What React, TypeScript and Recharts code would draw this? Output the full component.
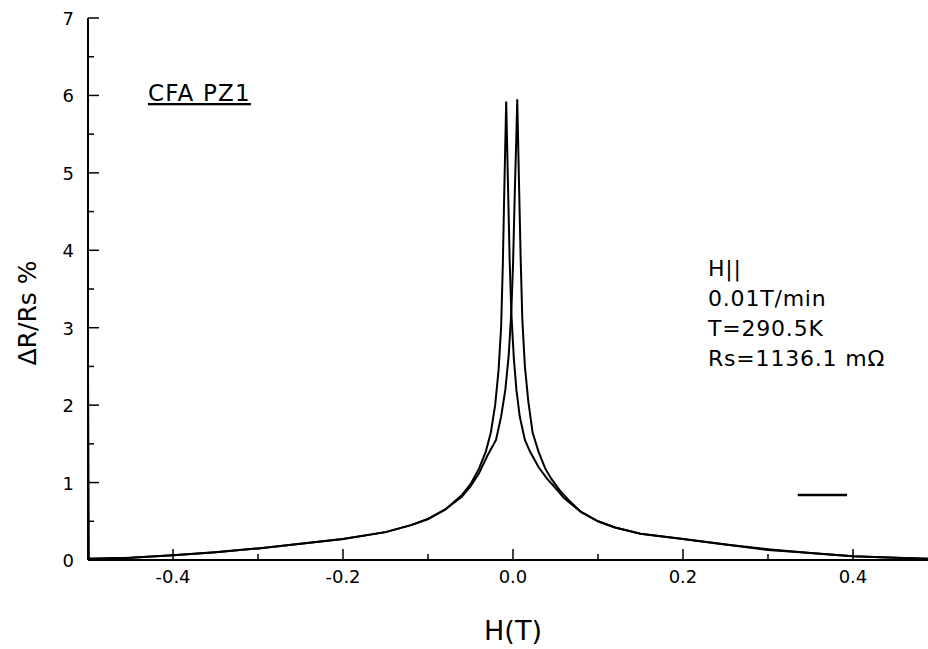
import React from 'react';
import { LineChart, Line, XAxis, YAxis } from 'recharts';

// field sweep down (+0.5 -> -0.5), peak just below zero
const hDown = [-0.5, -0.45, -0.4, -0.35, -0.3, -0.25, -0.2, -0.15, -0.12, -0.1, -0.08, -0.06, -0.05, -0.04, -0.032, -0.026, -0.021, -0.017, -0.014, -0.012, -0.01, -0.008, -0.006, -0.004, -0.002, 0.001, 0.004, 0.008, 0.014, 0.02, 0.03, 0.04, 0.05, 0.06, 0.08, 0.1, 0.12, 0.15, 0.2, 0.25, 0.3, 0.35, 0.4, 0.45, 0.5];
const rDown = [0.01, 0.03, 0.06, 0.1, 0.15, 0.21, 0.27, 0.36, 0.45, 0.53, 0.65, 0.84, 0.98, 1.18, 1.4, 1.65, 2.0, 2.45, 3.0, 3.8, 4.9, 5.92, 4.9, 3.9, 3.2, 2.6, 2.2, 1.85, 1.55, 1.4, 1.2, 1.05, 0.93, 0.8, 0.62, 0.5, 0.42, 0.34, 0.27, 0.2, 0.14, 0.09, 0.05, 0.03, 0.01];

// field sweep up (-0.5 -> +0.5), peak just above zero
const hUp = [-0.5, -0.499, -0.45, -0.4, -0.35, -0.3, -0.25, -0.2, -0.15, -0.12, -0.1, -0.08, -0.06, -0.05, -0.04, -0.03, -0.02, -0.014, -0.009, -0.005, -0.002, 0.0, 0.002, 0.004, 0.005, 0.007, 0.009, 0.011, 0.014, 0.018, 0.023, 0.03, 0.038, 0.045, 0.055, 0.065, 0.08, 0.1, 0.12, 0.15, 0.2, 0.25, 0.3, 0.35, 0.4, 0.45, 0.5];
const rUp = [2.5, 0.02, 0.03, 0.06, 0.1, 0.15, 0.21, 0.27, 0.36, 0.45, 0.53, 0.65, 0.82, 0.95, 1.12, 1.35, 1.55, 1.85, 2.2, 2.65, 3.2, 3.8, 4.7, 5.5, 5.95, 4.9, 3.9, 3.1, 2.5, 2.05, 1.65, 1.4, 1.18, 1.05, 0.9, 0.78, 0.62, 0.5, 0.42, 0.34, 0.27, 0.2, 0.13, 0.09, 0.05, 0.03, 0.01];

// leftover legend dash at right
const hDash = [0.335, 0.393];
const rDash = [0.84, 0.84];

const xTicks = [-0.5, -0.4, -0.3, -0.2, -0.1, 0, 0.1, 0.2, 0.3, 0.4, 0.5];
const yTicks = [0, 0.5, 1, 1.5, 2, 2.5, 3, 3.5, 4, 4.5, 5, 5.5, 6, 6.5, 7];

const downData = hDown.map((h, i) => ({ h, v: rDown[i] }));
const upData = hUp.map((h, i) => ({ h, v: rUp[i] }));
const dashData = hDash.map((h, i) => ({ h, v: rDash[i] }));

const FONT = '"DejaVu Sans", sans-serif';
const MAJOR = 11;
const MINOR = 6;

const isMajorX = (v: number) => Math.round(v * 10) % 2 === 0;
const isMajorY = (v: number) => Math.abs(v - Math.round(v)) < 1e-6;

const BottomTick = (props: any) => {
  const { x, y, payload } = props;
  const v = payload.value;
  const major = isMajorX(v);
  return (
    <g>
      <line x1={x} x2={x} y1={y} y2={y - (major ? MAJOR : MINOR)} stroke="#000" strokeWidth={1.5} />
      {major && (
        <text x={x} y={y + 23} textAnchor="middle" fontSize={18} fontFamily={FONT} fill="#000">
          {v.toFixed(1)}
        </text>
      )}
    </g>
  );
};

const TopTick = (props: any) => {
  const { x, y, payload } = props;
  const major = isMajorX(payload.value);
  return <line x1={x} x2={x} y1={y} y2={y + (major ? MAJOR : MINOR)} stroke="#000" strokeWidth={1.5} />;
};

const LeftTick = (props: any) => {
  const { x, y, payload } = props;
  const v = payload.value;
  const major = isMajorY(v);
  return (
    <g>
      <line x1={x} x2={x + (major ? MAJOR : MINOR)} y1={y} y2={y} stroke="#000" strokeWidth={1.5} />
      {major && (
        <text x={x - 14} y={y + 7} textAnchor="end" fontSize={18} fontFamily={FONT} fill="#000">
          {String(v)}
        </text>
      )}
    </g>
  );
};

const RightTick = (props: any) => {
  const { x, y, payload } = props;
  const major = isMajorY(payload.value);
  return <line x1={x} x2={x - (major ? MAJOR : MINOR)} y1={y} y2={y} stroke="#000" strokeWidth={1.5} />;
};

const axisLine = { stroke: '#000', strokeWidth: 2 };
const notes = ['H||', '0.01T/min', 'T=290.5K', 'Rs=1136.1 mΩ'];

export default function App() {
  return (
    <div style={{ position: 'fixed', left: 0, top: 0, width: 928, height: 649, overflow: 'hidden', background: '#fff' }}>
      <LineChart width={960} height={649} margin={{ top: 18, right: 22, bottom: 0, left: 0 }}>
        <XAxis
          dataKey="h"
          type="number"
          domain={[-0.5, 0.5]}
          allowDataOverflow
          ticks={xTicks}
          interval={0}
          height={89}
          tickSize={0}
          tickMargin={0}
          tickLine={false}
          axisLine={axisLine}
          tick={<BottomTick />}
        />
        <XAxis
          xAxisId="top"
          orientation="top"
          dataKey="h"
          type="number"
          domain={[-0.5, 0.5]}
          allowDataOverflow
          ticks={xTicks}
          interval={0}
          height={0}
          tickSize={0}
          tickMargin={0}
          tickLine={false}
          axisLine={axisLine}
          tick={<TopTick />}
        />
        <YAxis
          type="number"
          domain={[0, 7]}
          allowDataOverflow
          ticks={yTicks}
          interval={0}
          width={88}
          tickSize={0}
          tickMargin={0}
          tickLine={false}
          axisLine={axisLine}
          tick={<LeftTick />}
        />
        <YAxis
          yAxisId="right"
          orientation="right"
          type="number"
          domain={[0, 7]}
          allowDataOverflow
          ticks={yTicks}
          interval={0}
          width={0}
          tickSize={0}
          tickMargin={0}
          tickLine={false}
          axisLine={axisLine}
          tick={<RightTick />}
        />
        <Line data={downData} dataKey="v" type="linear" stroke="#000" strokeWidth={2} dot={false} isAnimationActive={false} />
        <Line data={upData} dataKey="v" type="linear" stroke="#000" strokeWidth={2} dot={false} isAnimationActive={false} />
        <Line data={dashData} dataKey="v" type="linear" stroke="#000" strokeWidth={2.5} dot={false} isAnimationActive={false} />
        <text x={148} y={101} fontSize={23} letterSpacing={1.2} fontFamily={FONT} textDecoration="underline" fill="#000">
          CFA PZ1
        </text>
        {notes.map((t, i) => (
          <text key={t} x={708} y={276 + i * 30} fontSize={22} letterSpacing={0.8} fontFamily={FONT} fill="#000">
            {t}
          </text>
        ))}
        <text
          x={27}
          y={313}
          transform="rotate(-90 27 313)"
          textAnchor="middle"
          dominantBaseline="central"
          fontSize={25}
          fontFamily={FONT}
          fill="#000"
        >
          ΔR/Rs %
        </text>
        <text x={513} y={640} textAnchor="middle" fontSize={27} fontFamily={FONT} fill="#000">
          H(T)
        </text>
      </LineChart>
    </div>
  );
}
